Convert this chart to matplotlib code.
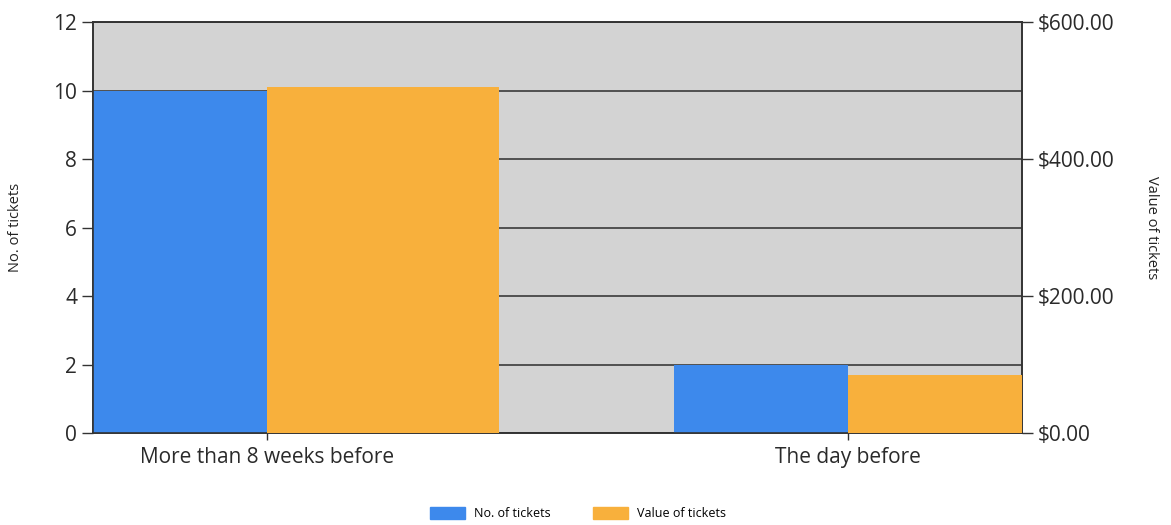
import matplotlib.pyplot as plt
import numpy as np
from matplotlib.patches import Patch

categories = ["More than 8 weeks before", "The day before"]
num_tickets = [10, 2]
value_tickets = [505, 85]

blue = "#3d89ec"
orange = "#f8b03c"

plt.rcParams["font.family"] = ["Open Sans", "DejaVu Sans"]

fig = plt.figure(figsize=(11.71, 5.25), dpi=100)
ax = fig.add_axes([0.0794, 0.1752, 0.7934, 0.7829])
ax2 = ax.twinx()

x = np.arange(len(categories))
w = 0.3
ax.set_facecolor("#d3d3d3")
ax.set_axisbelow(True)
ax.grid(axis="y", color="#3a3a3a", linewidth=1.2)
ax.bar(x, num_tickets, width=-w, align="edge", color=blue, zorder=3)
# orange bar in the first group is drawn wider in the original
orange_w = [0.4, w]
ax2.bar(x, value_tickets, width=orange_w, align="edge", color=orange, zorder=3)

ax.set_xlim(-w, 1 + w)
ax.set_ylim(0, 12)
ax.set_yticks(range(0, 13, 2))
ax2.set_ylim(0, 600)
ax2.set_yticks([0, 200, 400, 600])
ax2.set_yticklabels([f"${v:,.2f}" for v in [0, 200, 400, 600]])

ax.set_xticks(x)
ax.set_xticklabels(categories)

for a in (ax, ax2):
    for s in a.spines.values():
        s.set_color("#333333")
        s.set_linewidth(1.2)
    a.tick_params(axis="both", labelsize=15, colors="#333333", length=8, width=1, labelcolor="#2a2a2a")
ax.tick_params(axis="x", length=5, pad=5)

ax.set_ylabel("No. of tickets", fontsize=10.5, labelpad=22, color="#222222")
ax2.set_ylabel("Value of tickets", fontsize=10.5, rotation=270, labelpad=32, color="#222222")

handles = [Patch(color=blue, label="No. of tickets"), Patch(color=orange, label="Value of tickets")]
fig.legend(handles=handles, loc="lower center", bbox_to_anchor=(0.4936, -0.012), ncol=2,
           frameon=False, fontsize=9, handlelength=2.8, handleheight=1.1,
           handletextpad=0.7, columnspacing=3.4)

fig.savefig("out.png", dpi=100)
